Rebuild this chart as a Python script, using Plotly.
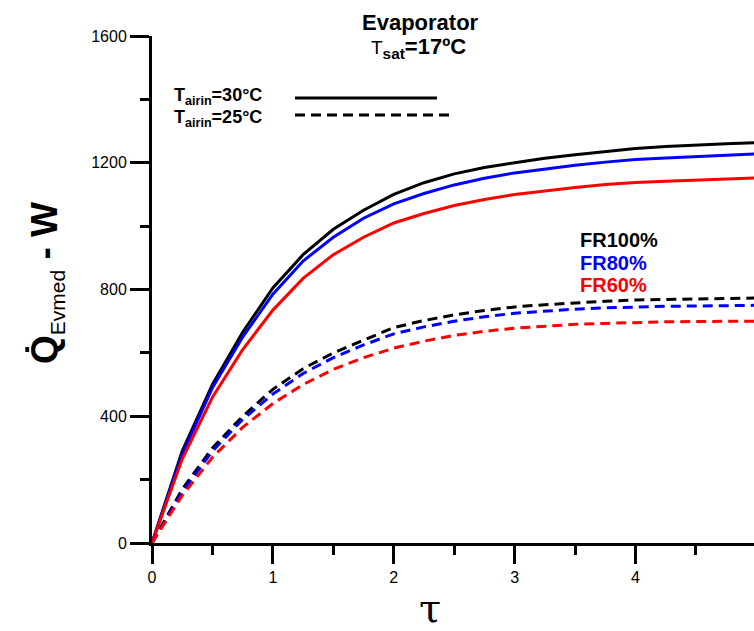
import plotly.graph_objects as go

tau = [0, 0.25, 0.5, 0.75, 1.0, 1.25, 1.5, 1.75, 2.0, 2.25, 2.5, 2.75, 3.0,
       3.25, 3.5, 3.75, 4.0, 4.25, 4.5, 4.75, 5.0]

q30_fr100 = [0, 290, 500, 665, 805, 910, 990, 1050, 1100, 1137, 1165, 1185, 1200,
             1214, 1225, 1236, 1245, 1251, 1256, 1260, 1263]
q30_fr80 = [0, 280, 490, 650, 785, 890, 965, 1025, 1070, 1103, 1130, 1151, 1168,
            1181, 1192, 1202, 1210, 1215, 1220, 1224, 1228]
q30_fr60 = [0, 265, 460, 610, 735, 835, 910, 965, 1010, 1040, 1065, 1084, 1100,
            1112, 1122, 1131, 1138, 1142, 1146, 1149, 1152]

q25_fr100 = [0, 170, 300, 400, 485, 550, 600, 640, 680, 702, 720, 734, 745,
             752, 758, 763, 767, 769, 771, 772, 773]
q25_fr80 = [0, 160, 290, 390, 470, 535, 585, 625, 660, 682, 700, 714, 725,
            732, 738, 742, 745, 747, 748, 749, 750]
q25_fr60 = [0, 150, 270, 365, 440, 500, 548, 585, 615, 637, 655, 668, 678,
            685, 690, 693, 696, 698, 699, 700, 700]

fr_labels = ["FR100%", "FR80%", "FR60%"]
colors = ["black", "#0000ff", "#ff0000"]

fig = go.Figure()
for ys, c in zip([q30_fr100, q30_fr80, q30_fr60], colors):
    fig.add_trace(go.Scatter(x=tau, y=ys, mode="lines", line=dict(color=c, width=3), showlegend=False))
for ys, c in zip([q25_fr100, q25_fr80, q25_fr60], colors):
    fig.add_trace(go.Scatter(x=tau, y=ys, mode="lines", line=dict(color=c, width=3, dash="10px,6px"), showlegend=False))

font = "Arial, Liberation Sans, sans-serif"

fig.update_layout(
    width=754, height=631,
    margin=dict(l=152, r=0, t=36, b=88),
    plot_bgcolor="white", paper_bgcolor="white",
    font=dict(family=font, color="black", size=16),
    xaxis=dict(range=[0, 4.98], showline=True, linewidth=3, linecolor="black",
               ticks="outside", ticklen=18, tickwidth=3, tickcolor="black", dtick=1,
               minor=dict(dtick=0.5, ticks="outside", ticklen=9, tickwidth=3, tickcolor="black"),
               showgrid=False, zeroline=False, tickfont=dict(size=16)),
    yaxis=dict(range=[0, 1600], showline=True, linewidth=3, linecolor="black",
               ticks="outside", ticklen=19, tickwidth=3, tickcolor="black", dtick=400,
               minor=dict(dtick=200, ticks="outside", ticklen=9, tickwidth=3, tickcolor="black"),
               showgrid=False, zeroline=False, tickfont=dict(size=16)),
)

ann = []
ann.append(dict(text="<b>Evaporator</b>", x=420, y=22, font=dict(size=22)))
ann.append(dict(text="<span style='font-size:19px'>T</span><sub><b>sat</b></sub><b>=17ºC</b>",
                x=418, y=48, font=dict(size=22)))
ann.append(dict(text="<b>T<sub>airin</sub>=30°C</b>", x=172, y=97, font=dict(size=18), xanchor="left"))
ann.append(dict(text="<b>T<sub>airin</sub>=25°C</b>", x=172, y=118, font=dict(size=18), xanchor="left"))
for i, (lab, c) in enumerate(zip(fr_labels, colors)):
    ann.append(dict(text=f"<b>{lab}</b>", x=578, y=240 + 22.5 * i, font=dict(size=20, color=c), xanchor="left"))
ann.append(dict(text="<b>Q̇</b><sub><span style='font-size:21px'>Evmed</span></sub><b> - W</b>",
                x=46, y=283, textangle=-90, font=dict(size=37)))
ann.append(dict(text="τ", x=430, y=608, font=dict(size=40, family="DejaVu Serif, serif")))

for a in ann:
    a.setdefault("xanchor", "center")
    a.update(xref="paper", yref="paper", showarrow=False, yanchor="middle")
    a["x"] = (a["x"] - 152) / (754 - 152)
    a["y"] = (543 - a["y"]) / (543 - 36)
    fig.add_annotation(**a)

def px2paper(px, py):
    return (px - 152) / (754 - 152), (543 - py) / (543 - 36)

x0, y0 = px2paper(295, 98)
x1, _ = px2paper(437, 98)
fig.add_shape(type="line", xref="paper", yref="paper", x0=x0, x1=x1, y0=y0, y1=y0,
              line=dict(color="black", width=3))
x0, y0 = px2paper(295, 115)
x1, _ = px2paper(452, 115)
fig.add_shape(type="line", xref="paper", yref="paper", x0=x0, x1=x1, y0=y0, y1=y0,
              line=dict(color="black", width=3, dash="10px,6px"))

fig.write_html("out.html")
